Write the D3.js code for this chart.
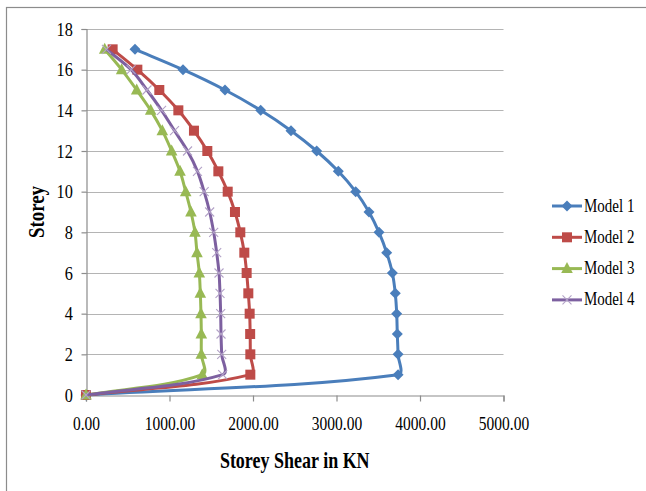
<!DOCTYPE html>
<html>
<head>
<meta charset="utf-8">
<script src="https://cdn.jsdelivr.net/npm/d3@7/dist/d3.min.js"></script>
<style>
  html, body { margin: 0; padding: 0; background: #fff; }
  svg { display: block; }
  text { font-family: "Liberation Serif", "Times New Roman", serif; fill: #000; }
</style>
</head>
<body>
<svg id="chart" width="646" height="491"></svg>
<script>
// ---- Data ----
const storeys = [0, 1, 2, 3, 4, 5, 6, 7, 8, 9, 10, 11, 12, 13, 14, 15, 16, 17];
const seriesNames = ["Model 1", "Model 2", "Model 3", "Model 4"];
const model1 = [0, 3737, 3737, 3728, 3721, 3704, 3669, 3601, 3509, 3389, 3230, 3022, 2763, 2455, 2092, 1665, 1162, 587];
const model2 = [0, 1968, 1968, 1966, 1960, 1944, 1924, 1896, 1848, 1784, 1697, 1585, 1453, 1293, 1106, 878, 615, 319];
const model3 = [0, 1393, 1381, 1381, 1377, 1369, 1357, 1329, 1305, 1257, 1194, 1126, 1026, 914, 775, 607, 427, 224];
const model4 = [0, 1637, 1625, 1617, 1613, 1605, 1593, 1565, 1529, 1481, 1415, 1335, 1216, 1060, 905, 730, 540, 245];
const xTicks = [0, 1000, 2000, 3000, 4000, 5000];
const yTicks = [0, 2, 4, 6, 8, 10, 12, 14, 16, 18];
const xTitle = "Storey Shear in KN";
const yTitle = "Storey";

const seriesValues = [model1, model2, model3, model4];
const colors = ["#4a7ebb", "#be4b48", "#98b954", "#7d60a0"];
const markerTypes = ["diamond", "square", "triangle", "x"];

// ---- Excel-like smoothed curve (custom d3 curve factory) ----
function SmoothCurve(context) { this._context = context; }
SmoothCurve.prototype = {
  areaStart() { this._line = 0; },
  areaEnd() { this._line = NaN; },
  lineStart() { this._pts = []; },
  point(x, y) { this._pts.push([+x, +y]); },
  lineEnd() {
    const p = this._pts, n = p.length, c = this._context;
    if (!n) return;
    const norm = (v) => { const l = Math.hypot(v[0], v[1]) || 1; return [v[0] / l, v[1] / l]; };
    const T = p.map((pt, i) => {
      const a = p[Math.max(0, i - 1)], b = p[Math.min(n - 1, i + 1)];
      return norm([b[0] - a[0], b[1] - a[1]]);
    });
    c.moveTo(p[0][0], p[0][1]);
    for (let i = 0; i < n - 1; i++) {
      const a = p[i], b = p[i + 1];
      const L = Math.hypot(b[0] - a[0], b[1] - a[1]) / 3;
      c.bezierCurveTo(a[0] + T[i][0] * L, a[1] + T[i][1] * L,
                      b[0] - T[i + 1][0] * L, b[1] - T[i + 1][1] * L,
                      b[0], b[1]);
    }
  }
};
const smooth = (context) => new SmoothCurve(context);

// ---- Layout ----
const svg = d3.select("#chart");
const x = d3.scaleLinear().domain([0, 5000]).range([86, 503.5]);
const y = d3.scaleLinear().domain([0, 18]).range([395, 29]);

// outer chart border (cut off at right/bottom in the reference)
svg.append("rect")
  .attr("x", 6.5).attr("y", 7.5).attr("width", 700).attr("height", 600)
  .attr("fill", "none").attr("stroke", "#8c8c8c").attr("stroke-width", 1.2);

// gridlines
svg.append("g").selectAll("line").data(yTicks.filter(d => d > 0)).join("line")
  .attr("x1", x(0)).attr("x2", x(5000))
  .attr("y1", d => Math.round(y(d)) + 0.5).attr("y2", d => Math.round(y(d)) + 0.5)
  .attr("stroke", "#b4b4b4").attr("stroke-width", 1.2);

// axes
const xAxis = d3.axisBottom(x).tickValues(xTicks).tickFormat(d3.format(".2f")).tickSize(6).tickPadding(11);
const gx = svg.append("g").attr("transform", `translate(0,${Math.round(y(0)) + 0.5})`).call(xAxis);
const yAxis = d3.axisLeft(y).tickValues(yTicks).tickFormat(d3.format("d")).tickSize(5).tickPadding(8);
const gy = svg.append("g").attr("transform", `translate(${Math.round(x(0)) + 0.5},0)`).call(yAxis);
[gx, gy].forEach(g => {
  g.select(".domain").attr("stroke", "#8c8c8c").attr("stroke-width", 1.2);
  g.selectAll(".tick line").attr("stroke", "#8c8c8c").attr("stroke-width", 1.2);
  g.selectAll(".tick text").style("font-family", '"Liberation Serif", serif')
    .style("font-size", "15.5px").attr("fill", "#111");
});
gx.selectAll(".tick text").attr("dy", "0.85em").attr("transform", "scale(1,1.15)");
gy.selectAll(".tick text").attr("dy", "0.34em").attr("transform", "scale(1.05,1.18)");

// axis titles
svg.append("text")
  .attr("transform", `translate(${(x(0) + x(5000)) / 2},468) scale(1,1.25)`)
  .attr("text-anchor", "middle").style("font-weight", "bold").style("font-size", "18px")
  .text(xTitle);
svg.append("text")
  .attr("transform", `translate(44,${(y(0) + y(18)) / 2}) rotate(-90) scale(1.05,1.25)`)
  .attr("text-anchor", "middle").style("font-weight", "bold").style("font-size", "18px")
  .text(yTitle);

// marker drawing
function drawMarker(sel, type, color) {
  if (type === "diamond") {
    sel.append("path").attr("d", "M0,-5.5L5.5,0L0,5.5L-5.5,0Z").attr("fill", color);
  } else if (type === "square") {
    sel.append("rect").attr("x", -5).attr("y", -5).attr("width", 10).attr("height", 10).attr("fill", color);
  } else if (type === "triangle") {
    sel.append("path").attr("d", "M0,-6.5L5.8,4.5L-5.8,4.5Z").attr("fill", color);
  } else {
    sel.append("path").attr("d", "M-4.5,-4.5L4.5,4.5M-4.5,4.5L4.5,-4.5")
      .attr("stroke", "#b3a2c7").attr("stroke-width", 1.1).attr("fill", "none");
  }
}

// series
const line = d3.line().curve(smooth);
seriesValues.forEach((vals, i) => {
  const pts = vals.map((v, k) => [x(v), y(storeys[k])]);
  const g = svg.append("g");
  g.append("path").attr("d", line(pts)).attr("fill", "none")
    .attr("stroke", colors[i]).attr("stroke-width", 3).attr("stroke-linejoin", "round");
  g.selectAll("g.m").data(pts).join("g").attr("class", "m")
    .attr("transform", d => `translate(${d[0]},${d[1]})`)
    .each(function () { drawMarker(d3.select(this), markerTypes[i], colors[i]); });
});

// legend
const legend = svg.append("g");
seriesNames.forEach((name, i) => {
  const ly = 206 + i * 31.3;
  const g = legend.append("g").attr("transform", `translate(0,${ly})`);
  g.append("line").attr("x1", 552).attr("x2", 582).attr("y1", 0).attr("y2", 0)
    .attr("stroke", colors[i]).attr("stroke-width", 3);
  const m = g.append("g").attr("transform", "translate(567,0)");
  drawMarker(m, markerTypes[i], colors[i]);
  g.append("text").attr("transform", "translate(584,5.5) scale(1,1.25)")
    .style("font-size", "15px").text(name);
});
</script>
</body>
</html>
